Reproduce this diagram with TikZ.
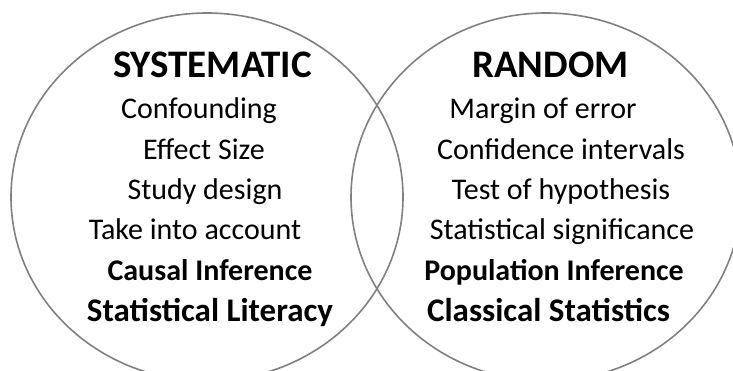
\documentclass[tikz,border=0pt]{standalone}
\usepackage{fontspec}
\setmainfont{Carlito}
\begin{document}
\begin{tikzpicture}[x=1pt,y=-1pt,
  ring/.style={draw=black!50, line width=1.6pt},
  label/.style={anchor=base, inner sep=0pt, text=black},
  plainitem/.style={label, font=\fontsize{30}{30}\selectfont},
  heading/.style={label, font=\bfseries\fontsize{39}{39}\selectfont},
  keyitem/.style={label, font=\bfseries\fontsize{30}{30}\selectfont},
  bigitem/.style={label, font=\bfseries\fontsize{33}{33}\selectfont}]
\useasboundingbox (0,0) rectangle (733,371);

% the two overlapping sets
\draw[ring] (207,197) ellipse [x radius=196pt, y radius=184pt];
\draw[ring] (546,197) ellipse [x radius=195pt, y radius=184pt];

% systematic error
\node[heading]   (sys)      at (212.5,78)  {SYSTEMATIC};
\node[plainitem] (conf)     at (199,119)   {Confounding};
\node[plainitem] (eff)      at (204,160)   {Effect Size};
\node[plainitem] (study)    at (205,200)   {Study design};
\node[plainitem] (take)     at (195,240)   {Take into account};
\node[keyitem]   (causal)   at (210,280)   {Causal Inference};
\node[bigitem]   (literacy) at (210,321)   {Statistical Literacy};

% random error
\node[heading]   (rand)      at (550.5,78) {RANDOM};
\node[plainitem] (margin)    at (543,119)  {Margin of error};
\node[plainitem] (confint)   at (561,160)  {Confidence intervals};
\node[plainitem] (test)      at (561,200)  {Test of hypothesis};
\node[plainitem] (signif)    at (562,240)  {Statistical significance};
\node[keyitem]   (popinf)    at (554,280)  {Population Inference};
\node[bigitem]   (classical) at (548.6,321) {Classical Statistics};
\end{tikzpicture}
\end{document}
